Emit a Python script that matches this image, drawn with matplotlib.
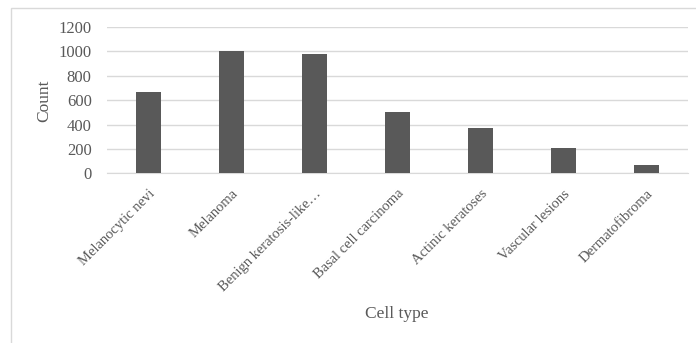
import matplotlib.pyplot as plt
from matplotlib.patches import Rectangle

cell_types = [
    "Melanocytic nevi",
    "Melanoma",
    "Benign keratosis-like…",
    "Basal cell carcinoma",
    "Actinic keratoses",
    "Vascular lesions",
    "Dermatofibroma",
]
counts = [668, 1000, 980, 500, 375, 210, 70]
y_ticks = [0, 200, 400, 600, 800, 1000, 1200]

plt.rcParams['font.family'] = ['Liberation Serif', 'DejaVu Serif']
text_color = '#595959'
grid_color = '#d9d9d9'

fig = plt.figure(figsize=(6.96, 3.43), dpi=100)
# light outer frame around the chart area
fig.patches.append(Rectangle((11 / 696, -0.1), 1.2, 1 - 8 / 343 + 0.1,
                             transform=fig.transFigure, fill=False,
                             edgecolor=grid_color, linewidth=1))

ax = fig.add_axes([0.1537, 0.4947, 0.8348, 0.4266])
x = range(len(cell_types))
ax.bar(x, counts, width=0.31, color='#595959', zorder=3)

ax.set_xlim(-0.5, len(cell_types) - 0.5)
ax.set_ylim(0, 1200)
ax.set_yticks(y_ticks)
ax.set_yticklabels([str(v) for v in y_ticks], fontsize=12, color=text_color)
ax.set_xticks(list(x))
ax.set_xticklabels(cell_types, rotation=45, ha='right', rotation_mode='anchor',
                   fontsize=10.5, color=text_color)
ax.tick_params(axis='both', length=0)
ax.tick_params(axis='y', pad=11)
ax.tick_params(axis='x', pad=10)

ax.grid(axis='y', color=grid_color, linewidth=1, zorder=0)
for side in ['top', 'right', 'left']:
    ax.spines[side].set_visible(False)
ax.spines['bottom'].set_color(grid_color)

fig.text(44.5 / 696, 1 - 101 / 343, 'Count', fontsize=12.5, rotation=90,
         color=text_color, ha='center', va='center')
fig.text(397 / 696, 1 - 314 / 343, 'Cell type', fontsize=12.5,
         color=text_color, ha='center', va='center')

fig.savefig('out.png', dpi=100)
